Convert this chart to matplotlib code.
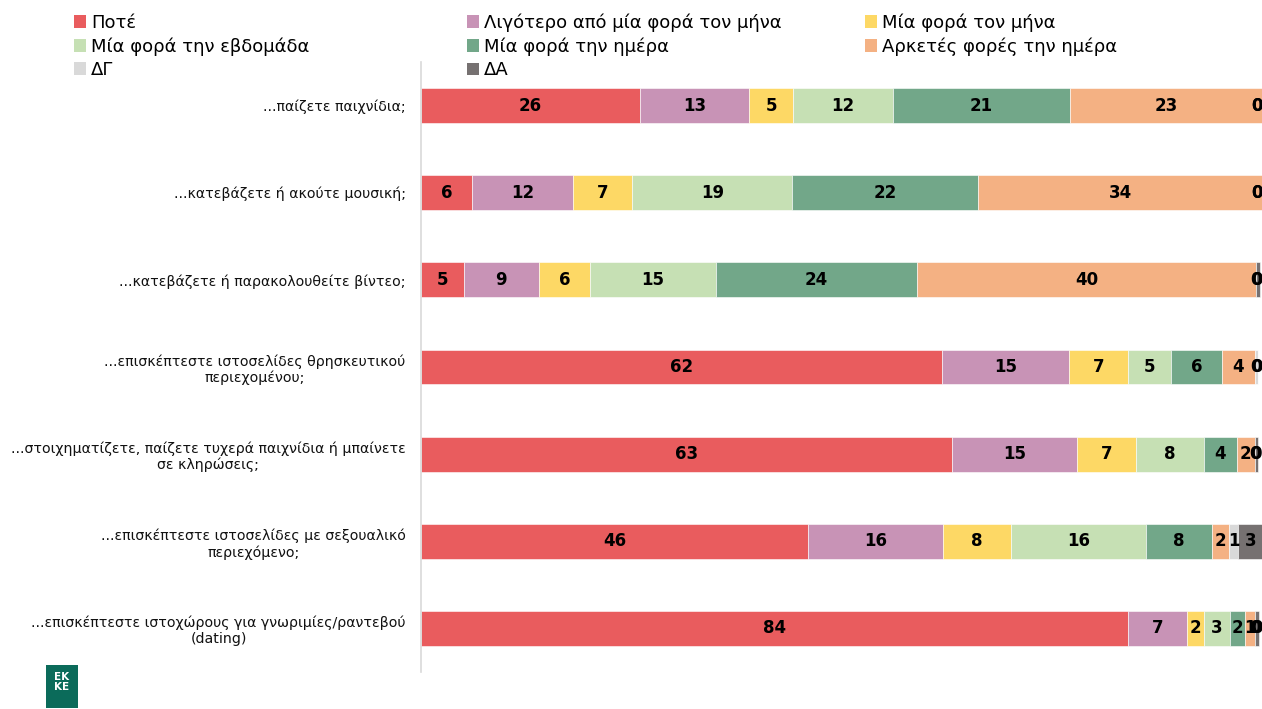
import matplotlib
matplotlib.use("Agg")
import matplotlib.pyplot as plt
from matplotlib.patches import Patch, Rectangle
import numpy as np

plt.rcParams['font.family'] = ['DejaVu Sans']

categories = [
    "...παίζετε παιχνίδια;",
    "...κατεβάζετε ή ακούτε μουσική;",
    "...κατεβάζετε ή παρακολουθείτε βίντεο;",
    "...επισκέπτεστε ιστοσελίδες θρησκευτικού\nπεριεχομένου;",
    "...στοιχηματίζετε, παίζετε τυχερά παιχνίδια ή μπαίνετε\nσε κληρώσεις;",
    "...επισκέπτεστε ιστοσελίδες με σεξουαλικό\nπεριεχόμενο;",
    "...επισκέπτεστε ιστοχώρους για γνωριμίες/ραντεβού\n(dating)",
]

series_names = [
    "Ποτέ",
    "Λιγότερο από μία φορά τον μήνα",
    "Μία φορά τον μήνα",
    "Μία φορά την εβδομάδα",
    "Μία φορά την ημέρα",
    "Αρκετές φορές την ημέρα",
    "ΔΓ",
    "ΔΑ",
]

never        = [26.0, 6.1, 5.1, 61.9, 63.1, 46.0, 84.0]
less_monthly = [13.0, 12.0, 8.9, 15.1, 14.8, 16.0, 7.0]
monthly      = [5.2, 7.0, 6.1, 7.0, 7.0, 8.1, 2.0]
weekly       = [11.8, 19.0, 14.9, 5.1, 8.1, 16.0, 3.1]
daily        = [21.1, 22.0, 23.9, 6.0, 3.9, 7.9, 1.8]
several      = [22.9, 33.9, 40.3, 3.9, 2.1, 2.0, 1.2]
dont_know    = [0.0, 0.0, 0.0, 0.45, 0.0, 1.0, 0.0]
no_answer    = [0.0, 0.0, 0.45, 0.0, 0.45, 3.0, 0.45]

series = [never, less_monthly, monthly, weekly, daily, several, dont_know, no_answer]

colors = ["#E95C5E", "#C893B6", "#FDD865", "#C6E0B4",
          "#72A789", "#F4B183", "#D9D9D9", "#767171"]

fig = plt.figure(figsize=(12.62, 7.09), dpi=100)
ax = fig.add_axes([421/1262, 37/709, 842/1262, 610/709])

y = np.arange(len(categories))
left = np.zeros(len(categories))
for vals, col in zip(series, colors):
    vals = np.array(vals)
    ax.barh(y, vals, left=left, height=0.40, color=col,
            edgecolor="white", linewidth=0.4)
    for yi, (l, v) in enumerate(zip(left, vals)):
        xc = min(l + v / 2, 99.3)
        ax.text(xc, yi, f"{int(round(v))}", ha="center", va="center",
                fontsize=12, fontweight="bold", color="black")
    left = left + vals

ax.set_xlim(0, 100)
ax.set_ylim(len(categories) - 0.5, -0.5)
ax.set_yticks(y)
ax.set_yticklabels(categories, fontsize=10.2, color="#111111",
                   multialignment="center")
ax.tick_params(axis="y", length=0, pad=11)
ax.set_xticks([])
for s in ["top", "right", "bottom"]:
    ax.spines[s].set_visible(False)
ax.spines["left"].set_color("#D9D9D9")
ax.spines["left"].set_linewidth(1.2)

handles = [Patch(facecolor=c, edgecolor="none") for c in colors]
col_groups = [[0, 3, 6], [1, 4, 7], [2, 5]]
col_x = [70/1262, 463/1262, 861/1262]
for gx, idxs in zip(col_x, col_groups):
    fig.legend([handles[i] for i in idxs], [series_names[i] for i in idxs],
               loc="upper left", bbox_to_anchor=(gx, 1.0 - 10/709),
               frameon=False, fontsize=13, ncol=1,
               handlelength=0.7, handleheight=0.7, handletextpad=0.25,
               labelspacing=0.3, borderpad=0.2, borderaxespad=0)

# logo
fig.patches.append(Rectangle((46/1262, 1 - 708/709), 32/1262, 43/709,
                             transform=fig.transFigure, facecolor="#0B6B5A",
                             edgecolor="none"))
fig.text(62/1262, 1 - 682/709, "EK\nKE", ha="center", va="center",
         fontsize=7.5, fontweight="bold", color="white", linespacing=0.9)

fig.savefig("out.png", dpi=100)
